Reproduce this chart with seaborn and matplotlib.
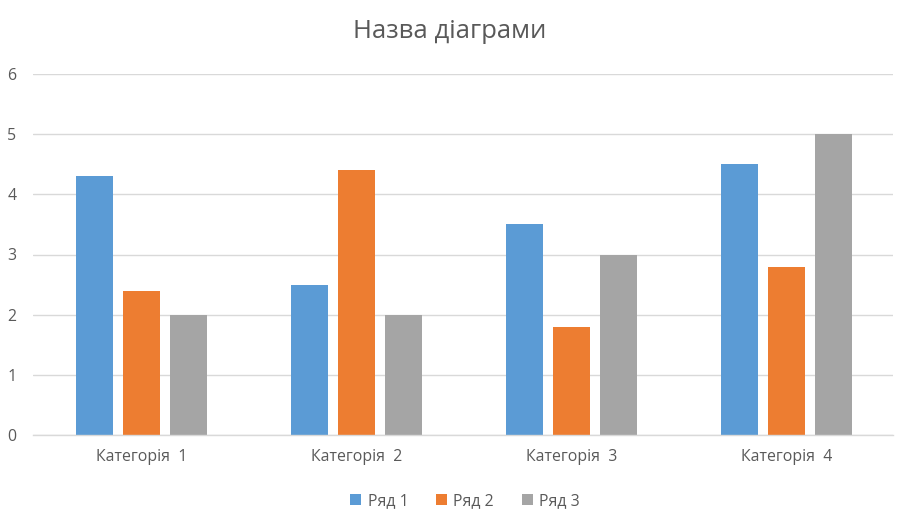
import matplotlib
matplotlib.use("Agg")
import matplotlib.pyplot as plt
import seaborn as sns
import pandas as pd

categories = ["Категорія  1", "Категорія  2", "Категорія  3", "Категорія  4"]
series_names = ["Ряд 1", "Ряд 2", "Ряд 3"]
row1 = [4.3, 2.5, 3.5, 4.5]
row2 = [2.4, 4.4, 1.8, 2.8]
row3 = [2, 2, 3, 5]
title = "Назва діаграми"
colors = ["#5B9BD5", "#ED7D31", "#A5A5A5"]

records = []
for name, vals in zip(series_names, [row1, row2, row3]):
    for c, v in zip(categories, vals):
        records.append({"cat": c, "series": name, "value": v})
df = pd.DataFrame(records)

sns.set_theme(style="white")
plt.rcParams["font.family"] = ["Open Sans", "DejaVu Sans"]

fig = plt.figure(figsize=(8.99, 5.21), dpi=100)
ax = fig.add_axes([33/899, 1-435/521, (893-33)/899, (435-74)/521])

sns.barplot(data=df, x="cat", y="value", hue="series", palette=colors,
            width=0.656, gap=0.213, ax=ax, saturation=1, errorbar=None,
            edgecolor="none")

ax.set_ylim(0, 6)
ax.set_xlim(-0.505, 3.495)
ax.set_yticks(range(0, 7))
ax.yaxis.grid(True, color="#D9D9D9", linewidth=1)
ax.set_axisbelow(True)
for s in ["top", "right", "left"]:
    ax.spines[s].set_visible(False)
ax.spines["bottom"].set_color("#D9D9D9")
ax.spines["bottom"].set_linewidth(1)
ax.set_xlabel("")
ax.set_ylabel("")
ax.tick_params(axis="both", length=0, labelsize=11.4, colors="#595959")
ax.tick_params(axis="x", pad=10)
ax.tick_params(axis="y", pad=12)

fig.text(0.5, 1-32/521, title, ha="center", va="center", fontsize=18.5, color="#595959")

ax.legend(loc="center", bbox_to_anchor=((465-33)/860, (435-501)/361),
          ncol=3, frameon=False, fontsize=11.4, labelcolor="#595959",
          handlelength=0.7, handleheight=0.7, handletextpad=0.4, columnspacing=1.75)

fig.savefig("out.png", dpi=100)
